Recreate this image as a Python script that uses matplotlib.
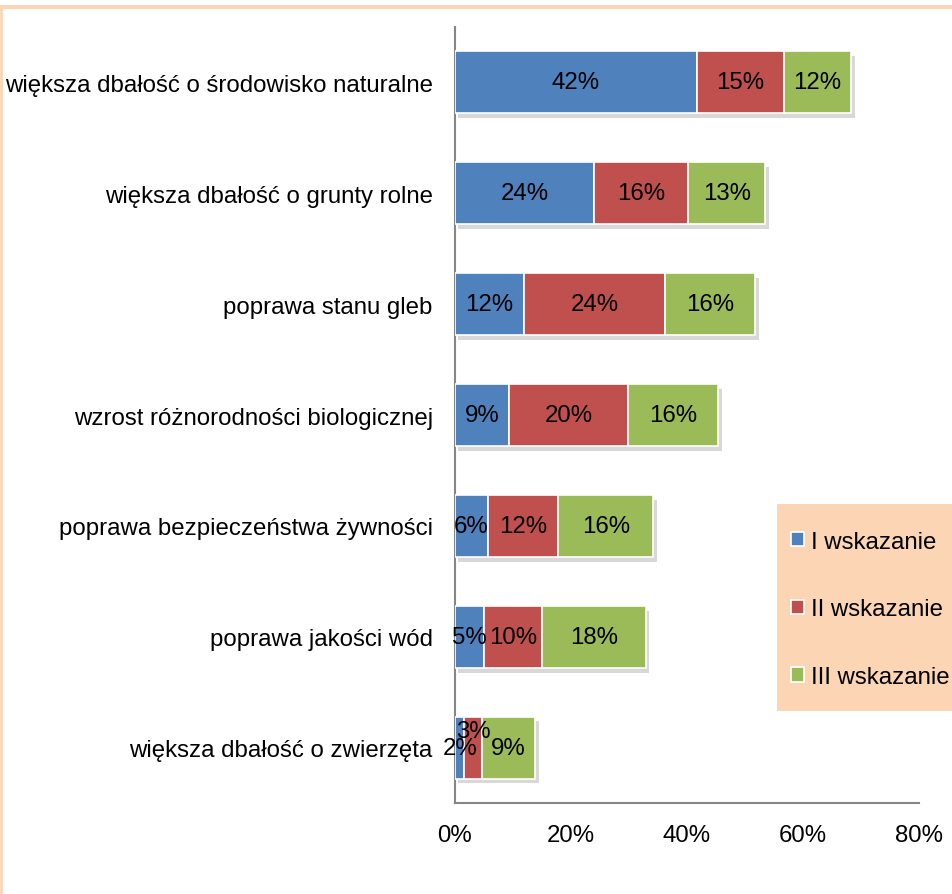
import numpy as np
import matplotlib.pyplot as plt
from matplotlib.lines import Line2D
from matplotlib.patches import Rectangle
import matplotlib.patheffects as pe

# ============================================================
# DATA
# ============================================================
categories = [
    "większa dbałość o środowisko naturalne",
    "większa dbałość o grunty rolne",
    "poprawa stanu gleb",
    "wzrost różnorodności biologicznej",
    "poprawa bezpieczeństwa żywności",
    "poprawa jakości wód",
    "większa dbałość o zwierzęta",
]
series_names = ["I wskazanie", "II wskazanie", "III wskazanie"]
first_choice = [41.7, 24.0, 11.9, 9.3, 5.7, 5.0, 1.6]
second_choice = [15.0, 16.2, 24.3, 20.5, 12.1, 10.0, 3.1]
third_choice = [11.6, 13.3, 15.6, 15.6, 16.4, 17.9, 9.1]
xticks = [0, 20, 40, 60, 80]

# ============================================================
# STYLE
# ============================================================
COLORS = ["#4F81BD", "#C0504D", "#9BBB59"]
BORDER = "#FBD5B5"
LEGEND_BG = "#FCD5B5"
FONT = "Liberation Sans"
FS = 17.3

plt.rcParams["font.family"] = [FONT, "DejaVu Sans"]

fig = plt.figure(figsize=(9.53, 8.95), dpi=100)
ax = fig.add_axes([455 / 953, 1 - 804 / 895, 464 / 953, 776 / 895])

y = np.arange(len(categories))
series = [first_choice, second_choice, third_choice]
left = np.zeros(len(categories))
for vals, color, name in zip(series, COLORS, series_names):
    vals = np.asarray(vals)
    bars = ax.barh(y, vals, left=left, height=0.56, color=color,
                   edgecolor="white", linewidth=1.2, label=name, zorder=3)
    for b in bars:
        b.set_path_effects([pe.SimplePatchShadow(offset=(2.5, -3.5), shadow_rgbFace="0.5", alpha=0.3), pe.Normal()])
    for i, (l, v) in enumerate(zip(left, vals)):
        dy = 0
        # Excel nudged the tiny overlapping label up
        if v < 4 and name == "II wskazanie":
            dy = 12
        ax.annotate(f"{v:.0f}%", (l + v / 2, y[i]), xytext=(0, dy),
                    textcoords="offset points", ha="center", va="center",
                    fontsize=FS, color="black", zorder=5)
    left = left + vals

ax.set_ylim(len(categories) - 0.5, -0.5)
ax.set_xlim(0, 80)
ax.set_yticks(y)
ax.set_yticklabels(categories, fontsize=FS)
ax.set_xticks(xticks)
ax.set_xticklabels([f"{t}%" for t in xticks], fontsize=FS)
ax.tick_params(axis="both", length=0)
ax.tick_params(axis="x", pad=15)
ax.tick_params(axis="y", pad=16)
for s in ["top", "right"]:
    ax.spines[s].set_visible(False)
for s in ["left", "bottom"]:
    ax.spines[s].set_color("#868686")
    ax.spines[s].set_linewidth(1.5)

# legend on peach box
fig.add_artist(Rectangle((777 / 953, 1 - 712 / 895), 176 / 953, 207 / 895,
                         transform=fig.transFigure, facecolor=LEGEND_BG,
                         edgecolor="none", zorder=1))
leg = fig.legend(loc="upper left", bbox_to_anchor=(781 / 953, 1 - 522 / 895),
                 frameon=False, fontsize=FS, handlelength=0.55, handleheight=0.55,
                 handletextpad=0.3, labelspacing=1.9, borderaxespad=0)
for h in leg.legend_handles:
    h.set_edgecolor("white")
    h.set_path_effects([])

# outer frame fragments
fig.add_artist(Line2D([0, 1], [1 - 8 / 895, 1 - 8 / 895], color=BORDER, linewidth=3,
                      transform=fig.transFigure))
fig.add_artist(Line2D([1 / 953, 1 / 953], [0, 1 - 8 / 895], color=BORDER, linewidth=2,
                      transform=fig.transFigure))

fig.savefig("out.png", dpi=100)
